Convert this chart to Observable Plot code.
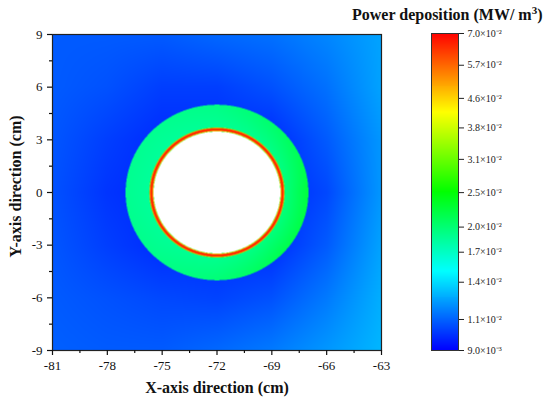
<!DOCTYPE html>
<html><head><meta charset="utf-8">
<script src="https://cdn.jsdelivr.net/npm/d3@7"></script>
<script src="https://cdn.jsdelivr.net/npm/@observablehq/plot@0.6"></script>
<style>
body{margin:0;background:#fff;}
#wrap{position:relative;width:550px;height:408px;overflow:hidden;font-family:"Liberation Serif","Times New Roman",serif;}
#main{position:absolute;left:0;top:0;}
#bar{position:absolute;left:400px;top:0;}
#title{position:absolute;left:352px;top:6px;font-weight:bold;font-size:16px;white-space:nowrap;color:#111;}
#title sup{font-size:11px;line-height:0;}
</style></head><body>
<div id="wrap"><div id="main"></div><div id="bar"></div><div id="title">Power deposition (MW/ m<sup>3</sup>)</div></div>
<script>
// ---- axes ----
const xDomain = [-81, -63];
const yDomain = [-9, 9];
const xTicks = [-81, -78, -75, -72, -69, -66, -63];
const xMinor = [-79.5, -76.5, -73.5, -70.5, -67.5, -64.5];
const yTicks = [-9, -6, -3, 0, 3, 6, 9];
const yMinor = [-7.5, -4.5, -1.5, 1.5, 4.5, 7.5];

// ---- colour bar ----
const colorDomain = [0.009, 0.07];
const colorTicks = [0.009, 0.011, 0.014, 0.017, 0.020, 0.025, 0.031, 0.038, 0.046, 0.057, 0.070];
const colorStops = ["#0000ff", "#00ffff", "#00ff00", "#ffff00", "#ff0000"];

// ---- geometry (cm) ----
const center = [-72, 0];
const ringR = [3.47, 3.51, 3.59, 3.67, 3.71];      // thin hot ring at the inner wall
const ringV = [0.020, 0.056, 0.068, 0.056, 0.0195];
const annulusOuterR = 5.0;
const annAngles = [0, 45, 90, 135, 180, 225, 270, 315, 360];
const annInnerV = [0.0195, 0.0190, 0.0186, 0.0184, 0.0184, 0.0185, 0.0188, 0.0194, 0.0195];
const annOuterV = [0.0222, 0.0205, 0.0192, 0.0188, 0.0188, 0.0190, 0.0198, 0.0215, 0.0222];

// ---- background field sampled every 3 cm (rows from y=9 down to y=-9) ----
const gridX = [-81, -78, -75, -72, -69, -66, -63];
const gridY = [9, 6, 3, 0, -3, -6, -9];
const rowY9  = [0.0108, 0.0108, 0.0108, 0.0111, 0.0113, 0.0118, 0.0125];
const rowY6  = [0.0108, 0.0106, 0.0102, 0.0102, 0.0106, 0.0113, 0.0125];
const rowY3  = [0.0107, 0.0102, 0.0098, 0.0098, 0.0098, 0.0108, 0.0122];
const rowY0  = [0.0106, 0.0100, 0.0097, 0.0097, 0.0097, 0.0104, 0.0122];
const rowYm3 = [0.0107, 0.0102, 0.0098, 0.0098, 0.0098, 0.0108, 0.0125];
const rowYm6 = [0.0108, 0.0106, 0.0104, 0.0103, 0.0106, 0.0115, 0.0128];
const rowYm9 = [0.0109, 0.0108, 0.0108, 0.0111, 0.0115, 0.0122, 0.0130];
const gridRows = [rowY9, rowY6, rowY3, rowY0, rowYm3, rowYm6, rowYm9];

function lerpArr(xs, vs, x) {
  if (x <= xs[0]) return vs[0];
  for (let i = 1; i < xs.length; i++) {
    if (x <= xs[i]) { const u = (x - xs[i-1]) / (xs[i] - xs[i-1]); return vs[i-1] + (vs[i] - vs[i-1]) * u; }
  }
  return vs[vs.length - 1];
}
function background(x, y) {
  const sx = gridX[1] - gridX[0], sy = gridY[0] - gridY[1];
  const fx = (x - gridX[0]) / sx, fy = (gridY[0] - y) / sy;
  const n = gridX.length - 2, m = gridY.length - 2;
  const i = Math.min(n, Math.max(0, Math.floor(fx))), j = Math.min(m, Math.max(0, Math.floor(fy)));
  const u = fx - i, v = fy - j, g = gridRows;
  return (g[j][i] * (1 - u) + g[j][i+1] * u) * (1 - v) + (g[j+1][i] * (1 - u) + g[j+1][i+1] * u) * v;
}
function field(x, y) {
  const dx = x - center[0], dy = y - center[1];
  const r = Math.hypot(dx, dy);
  if (r < ringR[0]) return null;
  let a = Math.atan2(dy, dx) * 180 / Math.PI; if (a < 0) a += 360;
  const inner = lerpArr(annAngles, annInnerV, a), outer = lerpArr(annAngles, annOuterV, a);
  if (r < ringR[ringR.length - 1]) {
    const vs = ringV.slice(); vs[vs.length - 1] = inner;
    return lerpArr(ringR, vs, r);
  }
  if (r <= annulusOuterR) {
    const u = (r - ringR[ringR.length - 1]) / (annulusOuterR - ringR[ringR.length - 1]);
    return inner + (outer - inner) * u;
  }
  return background(x, y);
}

const pw = d3.piecewise(d3.interpolateRgb, colorStops);
const colorScale = {type: "log", domain: colorDomain, clamp: true, interpolate: t => pw(t)};
const fmtNum = d => String(d);

const main = Plot.plot({
  width: 400, height: 408,
  marginLeft: 52, marginRight: 19, marginTop: 34, marginBottom: 58,
  x: {domain: xDomain}, y: {domain: yDomain},
  color: colorScale,
  style: {fontFamily: "'Liberation Serif', 'Times New Roman', serif", fontSize: "13px", color: "#111", background: "transparent"},
  marks: [
    Plot.raster({x1: xDomain[0], x2: xDomain[1], y1: yDomain[0], y2: yDomain[1], fill: field, pixelSize: 0.5}),
    Plot.frame({stroke: "#222", strokeWidth: 1.2}),
    Plot.axisX({ticks: xTicks, tickSize: 5, tickPadding: 5, tickFormat: fmtNum, label: null, strokeWidth: 1.2}),
    Plot.axisX({ticks: xMinor, tickSize: 3, text: null, label: null, strokeWidth: 1.2}),
    Plot.axisY({ticks: yTicks, tickSize: 5, tickPadding: 5, tickFormat: fmtNum, label: null, strokeWidth: 1.2}),
    Plot.axisY({ticks: yMinor, tickSize: 3, text: null, label: null, strokeWidth: 1.2}),
    Plot.text(["X-axis direction (cm)"], {frameAnchor: "bottom", dy: 42, fontSize: 16, fontWeight: "bold", fill: "#111", textAnchor: "middle"}),
    Plot.text(["Y-axis direction (cm)"], {frameAnchor: "left", dx: -37, dy: -6, rotate: -90, textAnchor: "middle", fontSize: 16, fontWeight: "bold", fill: "#111"})
  ]
});
document.getElementById("main").append(main);

// colour bar (legend ramp sampled along the log domain)
const lo = Math.log(colorDomain[0]), hi = Math.log(colorDomain[1]), nRamp = 320;
const ramp = d3.range(nRamp).map(i => ({y1: Math.exp(lo + (hi - lo) * i / nRamp), y2: Math.exp(lo + (hi - lo) * (i + 1) / nRamp)}));
const sup = {"-": "\u207B", "0": "\u2070", "1": "\u00B9", "2": "\u00B2", "3": "\u00B3", "4": "\u2074", "5": "\u2075", "6": "\u2076", "7": "\u2077", "8": "\u2078", "9": "\u2079"};
function sci(v) {
  const e = Math.floor(Math.log10(v) + 1e-9);
  const mant = v / Math.pow(10, e);
  return mant.toFixed(1) + "\u00D710" + String(e).split("").map(c => sup[c]).join("");
}
const bar = Plot.plot({
  width: 150, height: 408,
  marginLeft: 31, marginRight: 92, marginTop: 33, marginBottom: 58,
  x: {domain: [0, 1], axis: null},
  y: {type: "log", domain: colorDomain, axis: null},
  color: colorScale,
  style: {fontFamily: "'Liberation Serif', 'Times New Roman', serif", fontSize: "10px", color: "#222", background: "transparent"},
  marks: [
    Plot.rect(ramp, {x1: 0, x2: 1, y1: "y1", y2: "y2", fill: d => Math.sqrt(d.y1 * d.y2), shapeRendering: "crispEdges", inset: 0}),
    Plot.frame({stroke: "#333", strokeWidth: 1}),
    Plot.axisY({anchor: "right", ticks: colorTicks, tickFormat: sci, tickSize: 5, tickPadding: 4, label: null})
  ]
});
document.getElementById("bar").append(bar);
</script>
</body></html>
